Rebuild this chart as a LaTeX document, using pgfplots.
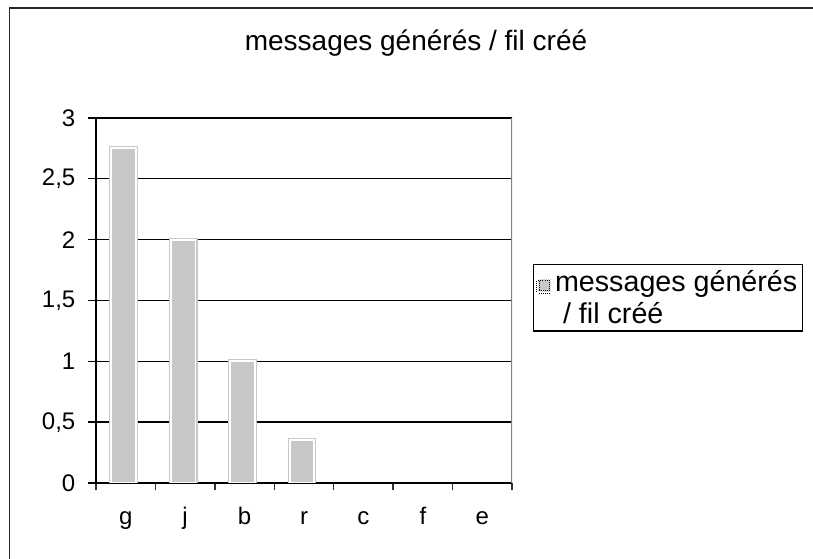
\documentclass[border=0pt]{standalone}
\usepackage{fontspec}
\setmainfont{Liberation Sans}
\usepackage{pgfplots}
\pgfplotsset{compat=1.18}
\definecolor{barg}{HTML}{C8C8C8}
\definecolor{axgray}{HTML}{808080}
\begin{document}
\begin{tikzpicture}[x=0.75pt,y=0.75pt]
\useasboundingbox (0,0) rectangle (813,559);
\draw[line width=1.2pt,black!85] (9.5,0) -- (9.5,551) -- (813,551);
\node[font=\fontsize{21}{25}\selectfont] at (416,516) {messages générés / fil créé};
\begin{axis}[
  at={(72pt,57pt)}, anchor=origin,
  scale only axis, width=312pt, height=273.75pt,
  xmin=0, xmax=7, ymin=0, ymax=3,
  axis x line*=bottom, axis y line*=left,
  axis line style={black, line width=1pt},
  ytick={0,0.5,...,3},
  /pgf/number format/fixed, /pgf/number format/use comma, /pgf/number format/assume math mode=true,
  yticklabel style={font=\fontsize{18}{21}\selectfont, xshift=-6pt},
  xtick={0.5,1.5,...,6.5},
  xticklabels={g,j,b,r,c,f,e},
  xticklabel style={font=\fontsize{18}{21}\selectfont, anchor=base, yshift=-25.5pt},
  x tick style={draw=none},
  minor xtick={0,1,...,7},
  minor x tick style={draw=black!80, line width=1pt},
  y tick style={black, line width=1pt},
  tick align=outside,
  major tick length=6pt, minor tick length=5.5pt,
  ymajorgrids, grid style={black, line width=1pt},
  ybar, bar width=18.5pt, bar shift=-1.5pt,
  restrict y to domain=0.001:10,
  legend style={at={(1.0505,0.6)}, anchor=north west, draw=black, line width=0.9pt,
    font=\fontsize{21.5}{24.5}\selectfont, inner sep=2pt, row sep=0pt,
    cells={anchor=base west, align=left}},
  legend image code/.code={\draw[fill=barg, draw=black, densely dotted, line width=0.6pt] (0pt,23.8pt) rectangle (9.5pt,33.3pt);},
]
\addplot[fill=barg, draw=barg, double=white, line width=0.9pt, double distance=1.4pt]
  coordinates {(0.5,2.75) (1.5,2.0) (2.5,1.0) (3.5,0.35) (4.5,0) (5.5,0) (6.5,0)};
\addlegendentry{messages générés\\\ / fil créé}
\draw[axgray, line width=1.6pt] (axis cs:7,3) -- (axis cs:7,0) -- ++(0,-5.5pt);
\end{axis}
\end{tikzpicture}
\end{document}
